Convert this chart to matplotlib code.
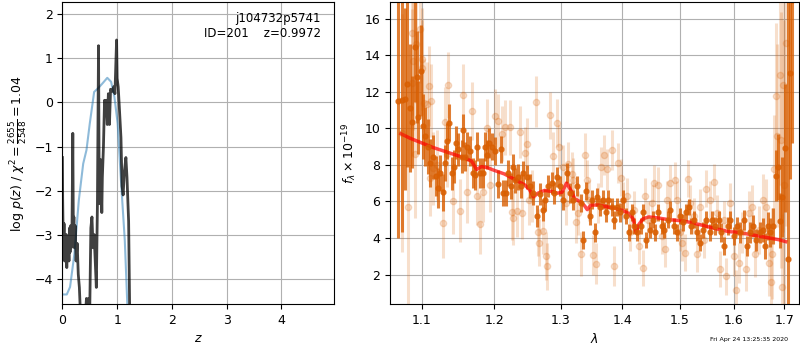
import matplotlib
matplotlib.use('Agg')
import matplotlib.pyplot as plt
from matplotlib.ticker import NullLocator

plt.rcParams['font.size'] = 9

# left panel: redshift probability
prior_z = [0.0, 0.08, 0.14, 0.22, 0.30, 0.38, 0.44, 0.50, 0.58, 0.65, 0.73,
           0.82, 0.89, 0.95, 1.01, 1.07, 1.14, 1.19]
prior_logp = [-4.36, -4.36, -4.19, -3.43, -2.22, -1.39, -1.08, -0.48, 0.24,
              0.32, 0.43, 0.56, 0.47, 0.13, -0.48, -1.77, -3.13, -4.7]

pz_z = [0.000, 0.005, 0.012, 0.02, 0.03, 0.04, 0.05, 0.06, 0.07, 0.08, 0.09,
        0.10, 0.11, 0.12, 0.13, 0.14, 0.15, 0.16, 0.175, 0.19, 0.20, 0.21,
        0.22, 0.235, 0.25, 0.27, 0.29, 0.31, 0.33, 0.42, 0.44, 0.46, 0.48,
        0.50, 0.52, 0.54, 0.56, 0.58, 0.60, 0.62, 0.64, 0.66, 0.67, 0.685,
        0.70, 0.72, 0.73, 0.75, 0.77, 0.79, 0.80, 0.82, 0.84, 0.86, 0.88,
        0.91, 0.94, 0.96, 0.99, 1.00, 1.02, 1.04, 1.07, 1.09, 1.11, 1.13,
        1.16, 1.18, 1.21, 1.23]
pz_logp = [-1.25, -2.2, -2.85, -3.35, -2.75, -3.6, -3.0, -3.5, -3.0, -3.75,
           -3.1, -3.5, -3.2, -3.6, -2.85, -3.4, -2.8, -3.3, -2.9, -0.7, -2.9,
           -2.6, -3.3, -2.8, -3.6, -3.2, -3.9, -4.2, -4.8, -4.8, -4.45, -4.7,
           -4.45, -4.7, -2.85, -2.6, -3.3, -3.0, -3.6, -4.2, -2.3, 1.29, -1.4,
           -2.3, -1.3, -2.5, -1.7, -1.0, 0.05, -0.25, 0.05, -0.5, 0.2, -0.5,
           0.3, 0.25, 0.36, 0.2, 1.42, 0.55, 0.35, -0.1, -0.8, -1.9, -2.1,
           -1.6, -1.25, -1.7, -2.7, -4.8]

# right panel: spectrum, two grism orientations + model
dark_wave = [1.0696, 1.0739, 1.0782, 1.0812, 1.0846, 1.0876, 1.0911, 1.0933,
             1.0955, 1.0986, 1.1021, 1.1044, 1.1088, 1.1110, 1.1155, 1.1191,
             1.1214, 1.1246, 1.1291, 1.1313, 1.1345, 1.1372, 1.1404, 1.1436,
             1.1464, 1.1496, 1.1541, 1.1564, 1.1588, 1.1620, 1.1658, 1.1696,
             1.1728, 1.1761, 1.1799, 1.1837, 1.1871, 1.1895, 1.1933, 1.1966,
             1.2014, 1.2062, 1.2096, 1.2135, 1.2174, 1.2207, 1.2241, 1.2270,
             1.2305, 1.2355, 1.2390, 1.2429, 1.2479, 1.2529, 1.2580, 1.2641,
             1.2681, 1.2722, 1.2758, 1.2809, 1.2861, 1.2896, 1.2938, 1.2989,
             1.3041, 1.3094, 1.3147, 1.3200, 1.3253, 1.3317, 1.3360, 1.3403,
             1.3457, 1.3500, 1.3543, 1.3575, 1.3630, 1.3674, 1.3728, 1.3767,
             1.3822, 1.3860, 1.3905, 1.3961, 1.4006, 1.4062, 1.4102, 1.4159,
             1.4198, 1.4255, 1.4312, 1.4358, 1.4404, 1.4462, 1.4520, 1.4561,
             1.4619, 1.4678, 1.4719, 1.4779, 1.4826, 1.4886, 1.4945, 1.5005,
             1.5053, 1.5102, 1.5157, 1.5199, 1.5260, 1.5308, 1.5370, 1.5420,
             1.5482, 1.5544, 1.5587, 1.5650, 1.5713, 1.5757, 1.5820, 1.5883,
             1.5934, 1.5998, 1.6063, 1.6127, 1.6192, 1.6256, 1.6309, 1.6374,
             1.6440, 1.6506, 1.6572, 1.6619, 1.6666, 1.6719, 1.6773, 1.6826,
             1.6866, 1.6920, 1.6954, 1.7009, 1.7077, 1.7111, 1.7159]
dark_flux = [11.5, 11.55, 11.6, 12.4, 11.1, 10.35, 14.45, 12.8, 10.6, 13.15,
             10.1, 9.55, 9.0, 8.1, 8.45, 7.4, 6.75, 7.55, 6.5, 8.1, 9.3, 10.3,
             7.55, 7.9, 9.2, 8.85, 8.45, 9.9, 8.45, 9.0, 8.75, 7.55, 7.45, 9.0,
             7.55, 7.55, 9.0, 8.55, 9.2, 9.0, 8.75, 6.95, 8.85, 6.45, 6.45,
             7.55, 6.85, 7.9, 7.15, 7.35, 6.85, 7.55, 7.35, 6.85, 6.45, 5.2,
             6.4, 5.55, 6.1, 6.85, 7.0, 6.45, 7.35, 6.85, 6.1, 7.55, 6.45, 6.1,
             6.85, 5.9, 3.9, 6.55, 5.2, 6.1, 4.3, 6.25, 5.7, 6.1, 5.4, 6.1, 5.7,
             5.0, 5.7, 5.4, 6.1, 5.2, 4.3, 5.4, 4.65, 4.3, 4.65, 5.4, 3.9, 4.45,
             5.0, 4.3, 5.4, 4.65, 4.45, 5.0, 5.55, 4.65, 4.3, 5.2, 4.85, 5.4,
             5.7, 4.65, 5.0, 4.3, 3.75, 4.45, 5.0, 4.3, 5.0, 4.65, 5.0, 4.3,
             3.55, 4.65, 5.0, 4.1, 4.65, 4.3, 5.0, 3.55, 4.3, 4.65, 3.9, 4.3,
             4.45, 3.55, 4.65, 4.3, 4.65, 7.4, 7.9, 4.95, 6.25, 8.9, 2.85, 13.0,
             17.0]
dark_err = [7.5, 7.2, 5.0, 4.5, 3.5, 2.5, 3.0, 2.5, 2.0, 2.5, 1.8, 1.6, 1.5,
            1.3, 1.2, 1.1, 1.1, 1.0, 1.0, 1.0, 1.0, 1.0, 0.9, 0.9, 0.9, 0.9,
            0.9, 0.9, 0.8, 0.8, 0.8, 0.8, 0.8, 0.8, 0.8, 0.8, 0.8, 0.8, 0.8,
            0.75, 0.75, 0.75, 0.75, 0.7, 0.7, 0.7, 0.7, 0.7, 0.7, 0.7, 0.65,
            0.65, 0.65, 0.65, 0.65, 0.6, 0.6, 0.6, 0.6, 0.6, 0.6, 0.6, 0.55,
            0.55, 0.55, 0.55, 0.55, 0.55, 0.55, 0.5, 0.5, 0.5, 0.5, 0.5, 0.5,
            0.5, 0.5, 0.5, 0.5, 0.5, 0.5, 0.5, 0.5, 0.5, 0.5, 0.45, 0.45, 0.45,
            0.45, 0.45, 0.45, 0.45, 0.45, 0.45, 0.45, 0.45, 0.45, 0.45, 0.45,
            0.45, 0.45, 0.45, 0.45, 0.45, 0.45, 0.45, 0.45, 0.45, 0.45, 0.45,
            0.45, 0.45, 0.45, 0.45, 0.5, 0.5, 0.5, 0.5, 0.5, 0.5, 0.5, 0.5,
            0.5, 0.55, 0.55, 0.55, 0.55, 0.6, 0.6, 0.6, 0.65, 0.7, 0.75, 0.8,
            1.0, 1.4, 1.8, 1.5, 2.2, 3.5, 15.0, 5.8, 7.8]

light_wave = [1.0739, 1.0816, 1.0868, 1.0876, 1.0889, 1.0911, 1.0924, 1.0977,
              1.0999, 1.1008, 1.1035, 1.1066, 1.1097, 1.1110, 1.1124, 1.1155,
              1.1200, 1.1291, 1.1313, 1.1336, 1.1359, 1.1427, 1.1518, 1.1564,
              1.1611, 1.1686, 1.1752, 1.1799, 1.1847, 1.1895, 1.1942, 1.2014,
              1.2062, 1.2111, 1.2159, 1.2232, 1.2256, 1.2280, 1.2330, 1.2380,
              1.2405, 1.2454, 1.2489, 1.2514, 1.2554, 1.2615, 1.2656, 1.2671,
              1.2732, 1.2773, 1.2793, 1.2835, 1.2876, 1.2938, 1.2979, 1.3041,
              1.3078, 1.3120, 1.3173, 1.3200, 1.3242, 1.3280, 1.3317, 1.3387,
              1.3414, 1.3441, 1.3521, 1.3559, 1.3602, 1.3641, 1.3696, 1.3739,
              1.3822, 1.3860, 1.3933, 1.3973, 1.4017, 1.4074, 1.4130, 1.4198,
              1.4273, 1.4341, 1.4387, 1.4444, 1.4502, 1.4532, 1.4619, 1.4678,
              1.4737, 1.4767, 1.4826, 1.4916, 1.4945, 1.5005, 1.5035, 1.5096,
              1.5139, 1.5187, 1.5248, 1.5308, 1.5370, 1.5432, 1.5482, 1.5556,
              1.5631, 1.5681, 1.5732, 1.5808, 1.5858, 1.5934, 1.5998, 1.6050,
              1.6095, 1.6159, 1.6243, 1.6289, 1.6355, 1.6420, 1.6486, 1.6572,
              1.6639, 1.6686, 1.6733, 1.6753, 1.6786, 1.6826, 1.6853, 1.6907,
              1.6934, 1.6954, 1.6967, 1.6988, 1.7029]
light_flux = [9.75, 5.7, 15.2, 12.5, 13.7, 8.6, 14.6, 15.45, 13.8, 13.3, 11.4,
              11.3, 12.3, 7.3, 11.5, 7.8, 8.0, 4.8, 10.35, 8.6, 12.35, 6.0,
              5.5, 11.8, 6.5, 10.95, 6.3, 4.75, 6.5, 10.0, 6.9, 10.65, 10.4,
              9.7, 10.05, 10.05, 5.4, 5.1, 5.45, 9.8, 5.35, 8.65, 9.15, 6.1,
              6.3, 11.45, 4.3, 3.75, 4.4, 3.0, 2.45, 10.7, 8.5, 10.3, 9.0, 7.9,
              5.9, 8.05, 7.5, 7.15, 4.9, 5.35, 3.1, 8.55, 7.15, 6.05, 3.05, 2.6,
              5.9, 7.9, 8.55, 7.75, 8.8, 2.45, 8.1, 7.3, 6.05, 6.3, 4.3, 5.55,
              3.55, 2.35, 6.3, 5.0, 5.9, 7.0, 6.9, 4.1, 3.4, 6.1, 7.0, 7.15,
              6.1, 4.3, 3.75, 3.2, 7.25, 5.9, 5.2, 3.15, 5.7, 3.9, 6.7, 6.1,
              7.05, 5.35, 2.3, 5.0, 1.9, 5.9, 3.0, 1.15, 2.65, 4.3, 2.3, 5.35,
              5.7, 3.15, 4.45, 6.1, 5.7, 2.65, 1.6, 3.15, 7.75, 11.75, 9.6,
              12.9, 9.35, 1.3, 12.35, 6.9, 14.65]
light_err = [6.5, 5.5, 4.5, 4.0, 3.8, 3.5, 3.2, 3.0, 2.8, 2.6, 2.4, 2.3, 2.2,
             2.1, 2.0, 2.0, 1.9, 1.9, 1.9, 1.8, 1.8, 1.8, 1.7, 1.7, 1.7, 1.6,
             1.6, 1.6, 1.6, 1.6, 1.5, 1.5, 1.5, 1.5, 1.5, 1.5, 1.5, 1.5, 1.4,
             1.4, 1.4, 1.4, 1.4, 1.4, 1.4, 1.4, 1.3, 1.3, 1.3, 1.3, 1.3, 1.3,
             1.3, 1.3, 1.2, 1.2, 1.2, 1.2, 1.2, 1.2, 1.2, 1.2, 1.2, 1.2, 1.1,
             1.1, 1.1, 1.1, 1.1, 1.1, 1.1, 1.1, 1.1, 1.1, 1.1, 1.0, 1.0, 1.0,
             1.0, 1.0, 1.0, 1.0, 1.0, 1.0, 1.0, 1.0, 1.0, 1.0, 1.0, 1.0, 1.0,
             1.0, 1.0, 1.0, 1.0, 1.0, 1.0, 1.0, 1.0, 1.0, 1.0, 1.0, 1.0, 1.0,
             1.0, 1.0, 1.0, 1.0, 1.0, 1.1, 1.1, 1.1, 1.1, 1.1, 1.2, 1.2, 1.2,
             1.3, 1.3, 1.4, 1.5, 1.8, 2.2, 2.5, 3.0, 4.0, 5.0, 6.0, 7.0, 4.0,
             8.0, 9.0, 10.0]

model_wave = [1.073, 1.085, 1.10, 1.115, 1.13, 1.145, 1.16, 1.168, 1.175,
              1.182, 1.19, 1.20, 1.215, 1.23, 1.245, 1.252, 1.258, 1.265,
              1.275, 1.285, 1.295, 1.302, 1.309, 1.316, 1.322, 1.332, 1.338,
              1.342, 1.348, 1.36, 1.375, 1.39, 1.40, 1.41, 1.418, 1.423, 1.428,
              1.435, 1.445, 1.46, 1.48, 1.50, 1.52, 1.54, 1.56, 1.575, 1.59,
              1.61, 1.63, 1.65, 1.67, 1.69, 1.703]
model_flux = [9.7, 9.45, 9.2, 8.95, 8.75, 8.55, 8.35, 8.2, 7.75, 7.9, 7.85,
              7.7, 7.5, 7.2, 6.9, 6.65, 6.25, 6.45, 6.6, 6.55, 6.45, 6.5, 7.0,
              6.6, 6.15, 5.95, 5.75, 5.55, 5.8, 5.8, 5.7, 5.6, 5.5, 5.35, 5.05,
              4.3, 4.75, 5.05, 5.15, 5.1, 5.0, 4.95, 4.85, 4.7, 4.55, 4.45,
              4.35, 4.3, 4.2, 4.1, 4.0, 3.9, 3.8]

wave_ticks = [1.1, 1.2, 1.3, 1.4, 1.5, 1.6, 1.7]

fig = plt.figure(figsize=(8, 3.5), dpi=100)

ax1 = fig.add_axes([0.078, 0.131, 0.340, 0.863])
ax1.plot(prior_z, prior_logp, color='#1f77b4', alpha=0.5, lw=1.5)
ax1.plot(pz_z, pz_logp, color='k', alpha=0.75, lw=2)
ax1.set_xlim(0, 4.97)
ax1.set_ylim(-4.58, 2.28)
ax1.set_xticks([0, 1, 2, 3, 4])
ax1.set_yticks([-4, -3, -2, -1, 0, 1, 2])
ax1.grid()
ax1.set_xlabel('$z$')
ax1.set_ylabel(r'$\log\,p(z)$ / $\chi^2=\frac{2655}{2548}=1.04$')
ax1.text(0.95, 0.968, 'j104732p5741\nID=201    z=0.9972', ha='right', va='top',
         transform=ax1.transAxes, fontsize=8.5)

ax2 = fig.add_axes([0.4875, 0.131, 0.5115, 0.863])
ax2.errorbar(light_wave, light_flux, yerr=light_err, marker='o', ms=4.5,
             ls='none', color='#d95f02', alpha=0.2, elinewidth=2.2)
ax2.errorbar(dark_wave, dark_flux, yerr=dark_err, marker='o', ms=3.5,
             ls='none', color='#d95f02', alpha=0.8, elinewidth=2.2)
ax2.plot(model_wave, model_flux, color='r', alpha=0.7, lw=2.5)
ax2.set_xscale('log')
ax2.set_xticks(wave_ticks)
ax2.set_xticklabels([str(w) for w in wave_ticks])
ax2.xaxis.set_minor_locator(NullLocator())
ax2.set_xlim(1.059, 1.731)
ax2.set_ylim(0.38, 16.9)
ax2.grid()
ax2.set_xlabel(r'$\lambda$')
ax2.set_ylabel(r'$f_\lambda\times10^{-19}$')

fig.text(0.985, 0.022, 'Fri Apr 24 13:25:35 2020', ha='right', va='bottom',
         fontsize=4.5)

fig.savefig('out.png', dpi=100)
